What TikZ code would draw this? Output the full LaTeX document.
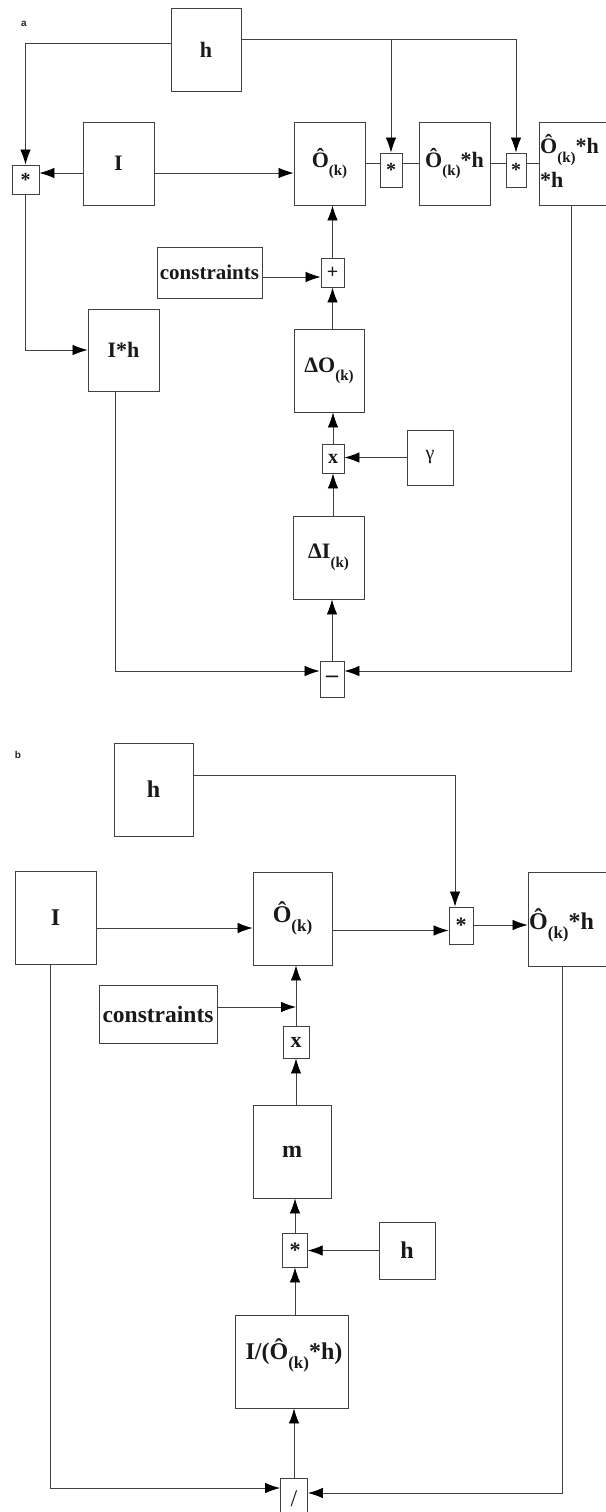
\documentclass[tikz,border=0pt]{standalone}
\usepackage{fontspec}
\setmainfont{Liberation Serif}
\newfontfamily\labelfont{Liberation Sans}
\usetikzlibrary{arrows.meta,calc}
% bold subscript "(k)" used after the estimate symbol
\newcommand{\subk}[1][15]{\raisebox{-0.38em}{\fontsize{#1}{#1}\selectfont(k)}}
\begin{document}
\begin{tikzpicture}[x=1pt,y=-1pt,
  box/.style={draw=black!75, line width=0.9pt, inner sep=0pt, fill=white,
    font=\fontsize{22}{25}\selectfont\bfseries, text=black!90},
  boxb/.style={box, font=\fontsize{24}{27}\selectfont\bfseries},
  opbox/.style={box, font=\fontsize{20}{22}\selectfont\bfseries},
  txt/.style={inner sep=0pt, font=\fontsize{22}{25}\selectfont\bfseries, text=black!90},
  txtb/.style={txt, font=\fontsize{24}{27}\selectfont\bfseries},
  wire/.style={draw=black!75, line width=0.8pt},
  arr/.style={wire, -{Latex[length=15pt,width=10.5pt,black]}},
  tag/.style={inner sep=0pt, text=black!85, font=\labelfont\bfseries\fontsize{10}{10}\selectfont}]
\useasboundingbox (0,0) rectangle (605,1512);

% ---------------- panel a ----------------
\node[tag] (ta) at (24,24) {a};
\node[box, minimum width=70pt, minimum height=83pt] (hA) at (206,49.5) {h};
\node[opbox, minimum width=27pt, minimum height=29pt] (sA1) at (25.5,179.5) {*};
\node[box, minimum width=71pt, minimum height=83pt] (IA) at (118.5,163.5) {I};
\node[box, minimum width=71pt, minimum height=83pt] (OA) at (329.5,163.5) {Ô\subk};
\node[opbox, minimum width=22pt, minimum height=34pt] (sA2) at (391,170) {*};
\node[box, minimum width=71pt, minimum height=83pt] (OhA) at (454.5,163.5) {Ô\subk*h};
\node[opbox, minimum width=20pt, minimum height=34pt] (sA3) at (516,170) {*};
\node[box, minimum width=71pt, minimum height=83pt] (OhhA) at (574.5,163.5) {};
\node[txt, anchor=west] (OhhA1) at (540,150) {Ô\subk*h};
\node[txt, anchor=west] (OhhA2) at (540,180) {*h};
\node[box, minimum width=105pt, minimum height=51pt, font=\fontsize{21}{24}\selectfont\bfseries] (cA) at (209.5,272.5) {constraints};
\node[opbox, minimum width=23pt, minimum height=29pt] (pA) at (332.5,272.5) {+};
\node[box, minimum width=71pt, minimum height=82pt] (IhA) at (123.5,350) {I*h};
\node[box, minimum width=70pt, minimum height=83pt] (dOA) at (329,370.5) {ΔO\subk};
\node[opbox, minimum width=22pt, minimum height=29pt] (xA) at (333,458.5) {x};
\node[box, minimum width=46pt, minimum height=55pt, font=\fontsize{20}{22}\selectfont] (gA) at (430,457.5) {γ};
\node[box, minimum width=71pt, minimum height=83pt] (dIA) at (328.5,557.5) {ΔI\subk};
\node[opbox, minimum width=24pt, minimum height=36pt, font=\fontsize{24}{26}\selectfont\bfseries] (mA) at (332,679) {–};

\coordinate (hAr) at ([yshift=10pt]hA.east);
\draw[arr] ([yshift=6pt]hA.west) -| (sA1.north);
\draw[arr] (hAr) -| (sA3.north);
\draw[arr] (hAr -| sA2.north) -- (sA2.north);
\draw[arr] ([yshift=-9.5pt]IA.west) -- ([yshift=-9.5pt]IA.west -| sA1.east);
\draw[arr] ([yshift=-9.5pt]IA.east) -- ([yshift=-9.5pt]IA.east -| OA.west);
\draw[wire] (OA.east) -- (OA.east -| sA2.west);
\draw[wire] (sA2.east |- OhA.east) -- (OhA.west);
\draw[wire] (OhA.east) -- (OhA.east -| sA3.west);
\draw[wire] (sA3.east |- OhhA.west) -- (OhhA.west);
\draw[arr] (sA1.south) |- (IhA.west);
\draw[arr] ([xshift=-8.5pt]IhA.south) |- ([yshift=8pt]mA.west);
\draw[arr] ([xshift=-3.5pt]OhhA.south) |- ([yshift=8pt]mA.east);
\draw[arr] (mA.north) -- (mA.north |- dIA.south);
\draw[arr] (xA.south |- dIA.north) -- (xA.south);
\draw[arr] (gA.west) -- (gA.west -| xA.east);
\draw[arr] (xA.north) -- (xA.north |- dOA.south);
\draw[arr] (pA.south |- dOA.north) -- (pA.south);
\draw[arr] ([yshift=-4.5pt]cA.east) -- ([yshift=-4.5pt]cA.east -| pA.west);
\draw[arr] (pA.north) -- (pA.north |- OA.south);

% ---------------- panel b ----------------
\node[tag] (tb) at (18,755) {b};
\node[boxb, minimum width=79pt, minimum height=93pt] (hB) at (153.5,789.5) {h};
\node[boxb, minimum width=81pt, minimum height=93pt] (IB) at (55.5,917.5) {I};
\node[boxb, minimum width=79pt, minimum height=93pt] (OB) at (292.5,918.5) {Ô\subk[17]};
\node[opbox, minimum width=24pt, minimum height=37pt, font=\fontsize{22}{24}\selectfont\bfseries] (sB) at (461,925.5) {*};
\node[boxb, minimum width=82pt, minimum height=94pt] (OhB) at (569,919) {};
\node[txtb, anchor=west] (OhB1) at (529,925) {Ô\subk[17]*h};
\node[boxb, minimum width=118pt, minimum height=58pt, font=\fontsize{23.5}{26}\selectfont\bfseries] (cB) at (158,1014) {constraints};
\node[opbox, minimum width=26pt, minimum height=32pt, font=\fontsize{22}{24}\selectfont\bfseries] (xB) at (296,1042) {x};
\node[boxb, minimum width=78pt, minimum height=93pt] (mB) at (292,1151.5) {m};
\node[opbox, minimum width=24.5pt, minimum height=34pt, font=\fontsize{22}{24}\selectfont\bfseries] (sB2) at (295,1250) {*};
\node[boxb, minimum width=56pt, minimum height=57pt] (hB2) at (407,1250.5) {h};
\node[boxb, minimum width=113pt, minimum height=93pt] (qB) at (291.5,1361.5) {};
\node[txtb] (qB1) at (294,1355) {I/(Ô\subk[17]*h)};
\node[box, minimum width=27pt, minimum height=42pt, font=\fontsize{24}{26}\selectfont] (dB) at (294,1499) {/};

\draw[arr] ([yshift=14.5pt]hB.east) -| ([xshift=-6pt]sB.north);
\draw[arr] ([yshift=-10.5pt]IB.east) -- ([yshift=-10.5pt]IB.east -| OB.west);
\draw[arr] ([yshift=-12pt]OB.east) -- ([yshift=-12pt]OB.east -| sB.west);
\draw[arr] (sB.east |- OhB1.west) -- (OhB.west |- OhB1.west);
\draw[arr] ([xshift=-5.5pt]IB.south) |- ([yshift=11pt]dB.west);
\draw[arr] ([xshift=-7pt]OhB.south) |- ([yshift=6pt]dB.east);
\draw[arr] (dB.north) -- (dB.north |- qB.south);
\draw[arr] (sB2.south |- qB.north) -- (sB2.south);
\draw[arr] (hB2.west) -- (hB2.west -| sB2.east);
\draw[arr] (sB2.north) -- (sB2.north |- mB.south);
\draw[arr] (xB.south |- mB.north) -- (xB.south);
\draw[arr] (xB.north) -- (xB.north |- OB.south);
\draw[arr] ([yshift=7pt]cB.east) -- ([yshift=7pt]cB.east -| xB.north);
\end{tikzpicture}
\end{document}
